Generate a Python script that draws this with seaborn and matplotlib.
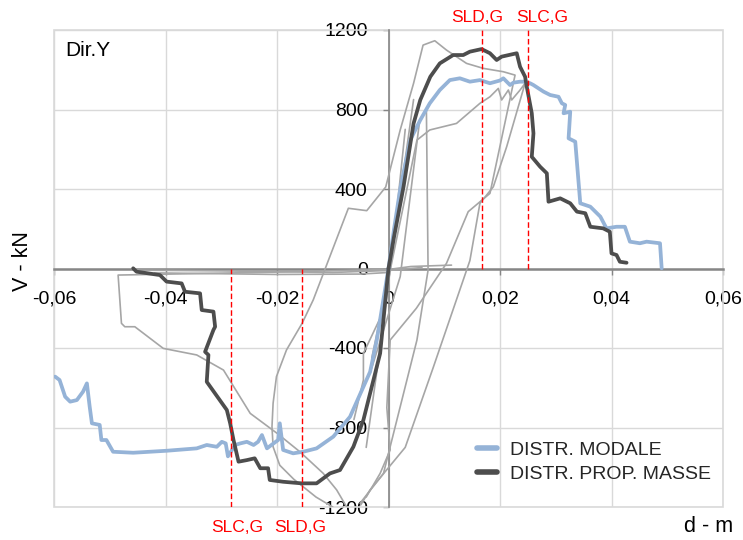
import numpy as np
import pandas as pd
import seaborn as sns
import matplotlib
matplotlib.use("Agg")
import matplotlib.pyplot as plt
from matplotlib.patches import Rectangle
from matplotlib.lines import Line2D

# ---------------- data ----------------
# DISTR. MODALE  (light blue)
MOD_POS_D = [0.0, 0.0010, 0.0021, 0.0039, 0.0057, 0.0074, 0.0092, 0.0110, 0.0128, 0.0146, 0.0164, 0.0182,
             0.0200, 0.0206, 0.0218, 0.0224, 0.0236, 0.0242, 0.0254, 0.0260, 0.0278, 0.0290, 0.0305, 0.0311,
             0.0317, 0.0314, 0.0326, 0.0323, 0.0335, 0.0344, 0.0362, 0.0380, 0.0391, 0.0409, 0.0424, 0.0433,
             0.0451, 0.0463, 0.0487, 0.0490]
MOD_POS_V = [0, 200, 400, 646, 747, 831, 898, 948, 957, 940, 948, 932,
             946, 957, 923, 935, 940, 940, 932, 923, 890, 873, 864, 831,
             823, 781, 789, 655, 638, 328, 311, 261, 202, 210, 210, 135,
             127, 135, 127, 1]
MOD_NEG_D = [0.0, -0.0010, -0.0021, -0.0033, -0.0045, -0.0069, -0.0099, -0.0129, -0.0153, -0.0171, -0.0189,
             -0.0195, -0.0198, -0.0210, -0.0218, -0.0227, -0.0234, -0.0242, -0.0254, -0.0266, -0.0275,
             -0.0288, -0.0292, -0.0299, -0.0308, -0.0326, -0.0344, -0.0398, -0.0458, -0.0494, -0.0506,
             -0.0515, -0.0518, -0.0532, -0.0536, -0.0541, -0.0548, -0.0559, -0.0571, -0.0580, -0.0590, -0.0598]
MOD_NEG_V = [0, -170, -360, -520, -595, -746, -846, -905, -922, -930, -913,
             -779, -863, -888, -905, -838, -872, -888, -872, -880, -888,
             -945, -880, -872, -897, -888, -905, -917, -927, -922, -863,
             -863, -787, -779, -695, -578, -620, -662, -670, -645, -561, -544]

# DISTR. PROP. MASSE  (dark grey)
MAS_POS_D = [0.0, 0.0010, 0.0027, 0.0045, 0.0057, 0.0075, 0.0092, 0.0116, 0.0134, 0.0146, 0.0167, 0.0182,
             0.0194, 0.0203, 0.0230, 0.0236, 0.0245, 0.0248, 0.0257, 0.0260, 0.0257, 0.0272, 0.0284, 0.0287,
             0.0308, 0.0326, 0.0338, 0.0353, 0.0362, 0.0385, 0.0397, 0.0400, 0.0409, 0.0415, 0.0427]
MAS_POS_V = [0, 160, 412, 730, 848, 965, 1032, 1074, 1074, 1091, 1104, 1083,
             1049, 1066, 1083, 1015, 965, 915, 781, 680, 562, 512, 479, 336,
             353, 328, 286, 278, 210, 202, 185, 76, 68, 34, 29]
MAS_NEG_D = [0.0, -0.0015, -0.0027, -0.0045, -0.0063, -0.0087, -0.0105, -0.0129, -0.0156, -0.0189, -0.0213,
             -0.0216, -0.0230, -0.0240, -0.0254, -0.0269, -0.0278, -0.0284, -0.0290, -0.0326, -0.0323,
             -0.0329, -0.0314, -0.0311, -0.0314, -0.0335, -0.0338, -0.0365, -0.0371, -0.0398, -0.0410,
             -0.0452, -0.0458]
MAS_NEG_V = [0, -427, -561, -762, -897, -1014, -1031, -1081, -1081, -1073, -1064,
             -1005, -1005, -955, -964, -972, -863, -779, -712, -570, -435,
             -419, -309, -293, -217, -209, -125, -117, -75, -66, -33,
             -16, 1]

# thin grey curves (other analyses)
G1_D = [-0.0100, -0.0130, -0.0170, -0.0195, -0.0207, -0.0209, -0.0207, -0.0201, -0.0183, -0.0155, -0.0135,
        -0.0072, -0.0039, -0.0005, 0.0021, 0.0045, 0.0062, 0.0083, 0.0104, 0.0140, 0.0170, 0.0206, 0.0227,
        0.0182, 0.0143, 0.0104, 0.0050, 0.0003, -0.0003, 0.0003, -0.0015, -0.0040]
G1_V = [-1200, -1150, -1060, -990, -897, -796, -678, -544, -410, -276, -158,
        303, 291, 410, 697, 932, 1124, 1146, 1099, 1032, 1007, 990, 973,
        378, 286, 26, -200, -360, -700, -913, -1031, -1150]
G2_D = [0.0113, 0.0040, 0.0000, -0.0200, -0.0485, -0.0479, -0.0473, -0.0455, -0.0404, -0.0344, -0.0296,
        -0.0248, -0.0200, -0.0159, -0.0117, -0.0093, -0.0075]
G2_V = [17, 10, -5, -18, -33, -276, -293, -293, -402, -435, -511,
        -729, -829, -922, -1031, -1114, -1200]
G3_D = [-0.0460, -0.0300, -0.0100, 0.0000, 0.0060]
G3_V = [-8, -12, -20, -10, 5]
G4_D = [-0.0420, -0.0200, -0.0050, 0.0000]
G4_V = [-22, -30, -28, -20]
G5_D = [-0.0030, 0.0000, 0.0051, 0.0074, 0.0122, 0.0164, 0.0182, 0.0197, 0.0203, 0.0215, 0.0221, 0.0236,
        0.0245, 0.0212, 0.0188, 0.0164, 0.0146, 0.0080, 0.0030, -0.0033, -0.0050]
G5_V = [-450, -50, 646, 697, 730, 831, 864, 906, 848, 898, 848, 898,
        932, 613, 411, 328, 40, -500, -900, -1114, -1190]
G6_D = [-0.0030, 0.0021, 0.0056, 0.0068, 0.0071, 0.0051, -0.0009, -0.0051]
G6_V = [-500, -41, 747, 797, -8, -360, -1031, -1181]
G7_D = [0.0045, 0.0015, -0.0015, -0.0045, -0.0045, -0.0062]
G7_V = [850, 250, -250, -427, -561, -760]
G8_D = [0.0030, 0.0008, -0.0020, -0.0040]
G8_V = [700, 100, -500, -900]

# limit-state markers
SL_POS_NAMES = ["SLD,G", "SLC,G"]
SL_POS_D = [0.0167, 0.0251]
SL_NEG_NAMES = ["SLC,G", "SLD,G"]
SL_NEG_D = [-0.0283, -0.0155]

X_TICKS = [-0.06, -0.04, -0.02, 0.0, 0.02, 0.04, 0.06]
X_TICK_LABELS = ["-0,06", "-0,04", "-0,02", "0", "0,02", "0,04", "0,06"]
Y_TICKS = [-1200, -800, -400, 0, 400, 800, 1200]
Y_TICK_LABELS = ["-1200", "-800", "-400", "0", "400", "800", "1200"]

SERIES_NAMES = ["DISTR. MODALE", "DISTR. PROP. MASSE"]

# ---------------- styling ----------------
sns.set_theme(style="white")
plt.rcParams['font.family'] = ['Liberation Sans', 'DejaVu Sans']

BLUE = "#95b3d7"
DARK = "#4d4d4d"
GREY = "#a6a6a6"
RED = "#ff0000"

fig = plt.figure(figsize=(7.43, 5.40), dpi=100)
ax = fig.add_axes([54 / 743, 1 - 507 / 540, (723 - 54) / 743, (507 - 30) / 540])

greys = [(G1_D, G1_V), (G2_D, G2_V), (G3_D, G3_V), (G4_D, G4_V),
         (G5_D, G5_V), (G6_D, G6_V), (G7_D, G7_V), (G8_D, G8_V)]
for gd, gv in greys:
    df = pd.DataFrame({"d": gd, "V": gv})
    sns.lineplot(data=df, x="d", y="V", sort=False, estimator=None, color=GREY,
                 lw=1.2, ax=ax, legend=False, zorder=2)

for d, v in [(MOD_POS_D, MOD_POS_V), (MOD_NEG_D, MOD_NEG_V)]:
    df = pd.DataFrame({"d": d, "V": v})
    sns.lineplot(data=df, x="d", y="V", sort=False, estimator=None, color=BLUE,
                 lw=2.7, ax=ax, legend=False, zorder=3)
for d, v in [(MAS_POS_D, MAS_POS_V), (MAS_NEG_D, MAS_NEG_V)]:
    df = pd.DataFrame({"d": d, "V": v})
    sns.lineplot(data=df, x="d", y="V", sort=False, estimator=None, color=DARK,
                 lw=2.7, ax=ax, legend=False, zorder=4)

# limit-state dashed lines
ax.vlines(SL_POS_D, 0, 1200, colors=RED, linestyles=(0, (4, 2)), lw=1.0, zorder=5)
ax.vlines(SL_NEG_D, -1200, 0, colors=RED, linestyles=(0, (4, 2)), lw=1.0, zorder=5)
pos_off = [-3, 10]
neg_off = [5, -1.5]
for name, x, dx in zip(SL_POS_NAMES, SL_POS_D, pos_off):
    ax.annotate(name, xy=(x, 1200), xytext=(dx, 9), textcoords="offset points",
                ha="center", va="center", color=RED, fontsize=12.5, annotation_clip=False)
for name, x, dx in zip(SL_NEG_NAMES, SL_NEG_D, neg_off):
    ax.annotate(name, xy=(x, -1200), xytext=(dx, -14.5), textcoords="offset points",
                ha="center", va="center", color=RED, fontsize=12.5, annotation_clip=False)

ax.set_xlim(-0.06, 0.06)
ax.set_ylim(-1200, 1200)
ax.set_xticks(X_TICKS)
ax.set_xticklabels(X_TICK_LABELS)
ax.set_yticks(Y_TICKS)
ax.set_yticklabels(Y_TICK_LABELS)
ax.set_xlabel("")
ax.set_ylabel("")

ax.grid(True, color="#d9d9d9", lw=1.0, zorder=0)
ax.set_axisbelow(True)
for s in ["top", "right"]:
    ax.spines[s].set_visible(False)
ax.spines["left"].set_position(("data", 0))
ax.spines["bottom"].set_position(("data", 0))
ax.spines["left"].set_color("#868686")
ax.spines["bottom"].set_color("#868686")
ax.spines["left"].set_linewidth(1.2)
ax.spines["bottom"].set_linewidth(1.8)
ax.spines["left"].set_zorder(1.5)
ax.spines["bottom"].set_zorder(1.5)
ax.add_patch(Rectangle((0, 0), 1, 1, transform=ax.transAxes, fill=False,
                       edgecolor="#d9d9d9", lw=1.2, clip_on=False, zorder=1))

ax.tick_params(axis="x", direction="out", length=4, width=1, color="#868686",
               pad=12, labelsize=14, labelcolor="black")
ax.tick_params(axis="y", direction="out", length=4, width=1, color="#868686",
               pad=11, labelsize=14, labelcolor="black")
ax.xaxis.set_ticks_position("bottom")
ax.yaxis.set_ticks_position("left")

ax.text((65 - 54) / 669, (507 - 50) / 477, "Dir.Y", transform=ax.transAxes,
        ha="left", va="center", fontsize=15, color="black")
fig.text(23 / 743, 1 - 261 / 540, "V - kN", rotation=90, ha="center", va="center",
         fontsize=15.5, color="black")
fig.text(733 / 743, 1 - 527 / 540, "d - m", ha="right", va="center",
         fontsize=15.5, color="black")

handles = [Line2D([], [], color=BLUE, lw=4), Line2D([], [], color=DARK, lw=4)]
leg = ax.legend(handles, SERIES_NAMES, loc="upper left", bbox_to_anchor=((477 - 54) / 669, (507 - 441) / 477),
                frameon=False, borderpad=0, borderaxespad=0, handlelength=1.05,
                handletextpad=0.65, labelspacing=0.33, fontsize=14)

fig.savefig("out.png", dpi=100)
